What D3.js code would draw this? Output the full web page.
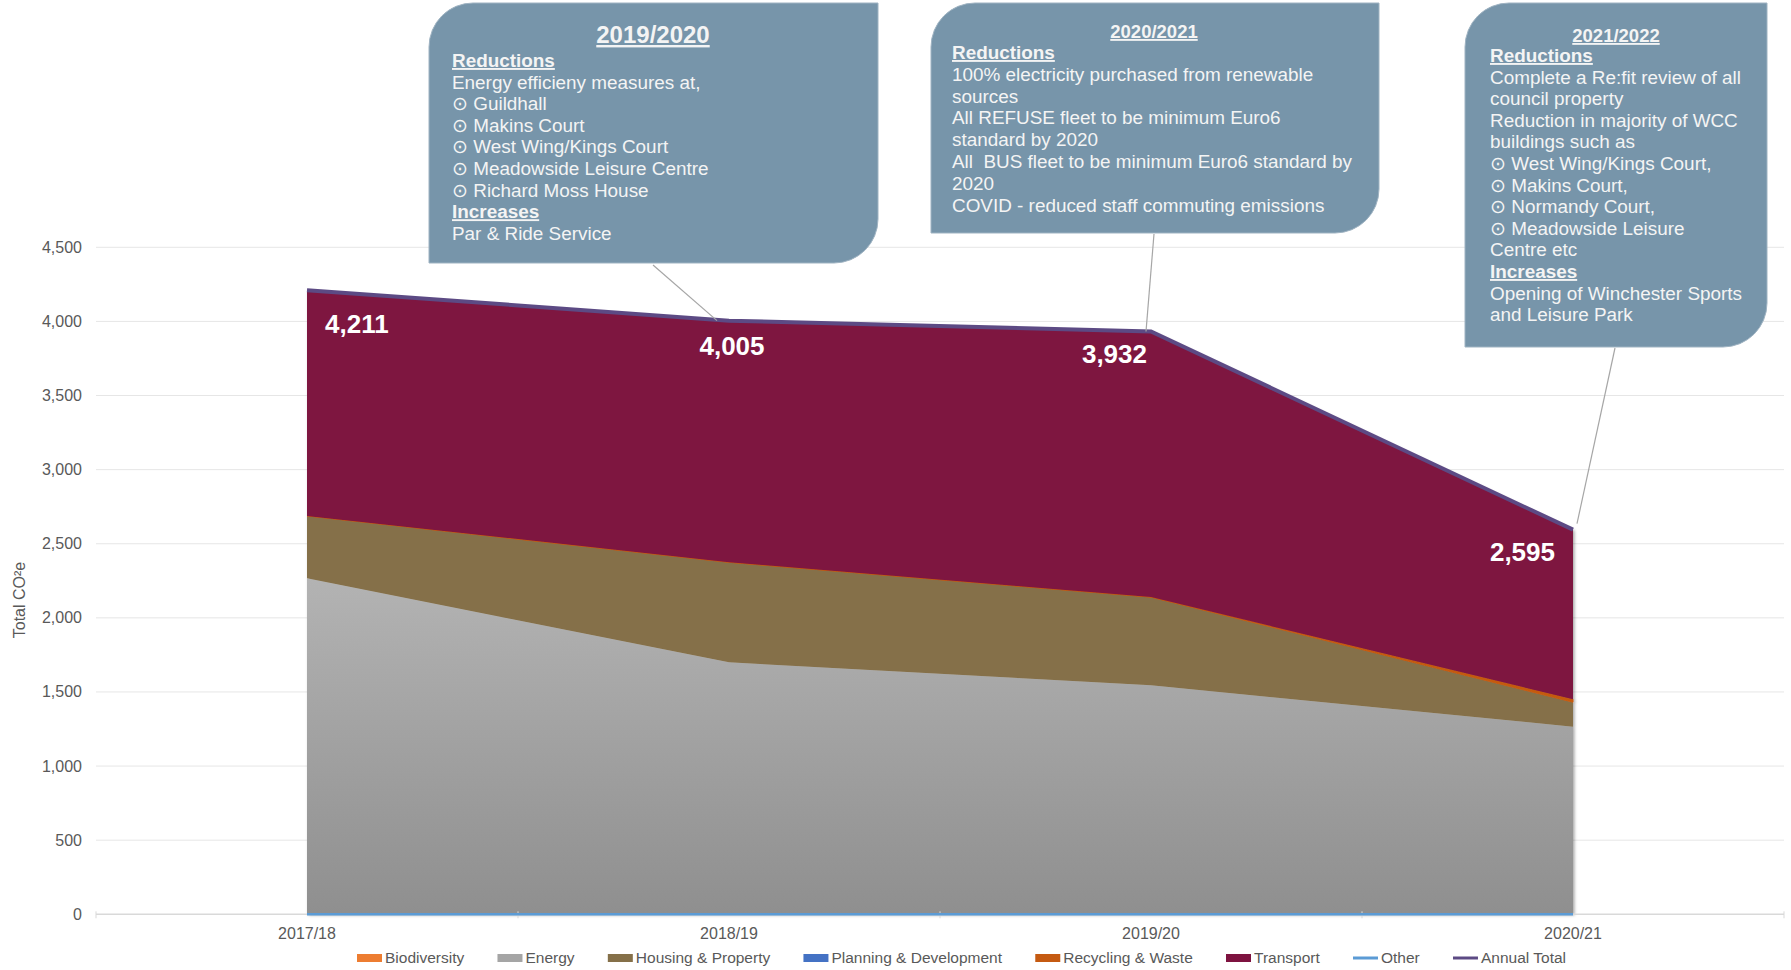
<!DOCTYPE html>
<html>
<head>
<meta charset="utf-8">
<script src="https://cdn.jsdelivr.net/npm/d3@7"></script>
<style>
  html, body { margin: 0; padding: 0; background: #fff; }
  svg { display: block; font-family: "Liberation Sans", Arial, sans-serif; }
</style>
</head>
<body>
<div id="chart"></div>
<script>
// ---- data ----
var years = ["2017/18", "2018/19", "2019/20", "2020/21"];
var biodiversity = [0, 0, 0, 0];
var energy = [2268, 1700, 1545, 1266];
var housing = [420, 675, 595, 165];
var planning = [0, 0, 0, 0];
var recycling = [0, 0, 0, 20];
var transport = [1523, 1630, 1792, 1144];
var other = [0, 0, 0, 0];
var annualTotal = [4211, 4005, 3932, 2595];
var yTicks = [0, 500, 1000, 1500, 2000, 2500, 3000, 3500, 4000, 4500];

var areaSeries = [
    { key: "Biodiversity", values: biodiversity, color: "#ed7d31" },
    { key: "Energy", values: energy, color: "url(#energyGrad)" },
    { key: "Housing & Property", values: housing, color: "#857049" },
    { key: "Planning & Development", values: planning, color: "#4472c4" },
    { key: "Recycling & Waste", values: recycling, color: "#c55a11" },
    { key: "Transport", values: transport, color: "#7e1340" }
];

// callout notes: "#" marks an underlined bold heading
var note1 = ["#Reductions", "Energy efficieny measures at,", "\u2299 Guildhall", "\u2299 Makins Court",
    "\u2299 West Wing/Kings Court", "\u2299 Meadowside Leisure Centre", "\u2299 Richard Moss House",
    "#Increases", "Par & Ride Service"];
var note2 = ["#Reductions", "100% electricity purchased from renewable", "sources",
    "All REFUSE fleet to be minimum Euro6", "standard by 2020",
    "All  BUS fleet to be minimum Euro6 standard by", "2020",
    "COVID - reduced staff commuting emissions"];
var note3 = ["#Reductions", "Complete a Re:fit review of all", "council property",
    "Reduction in majority of WCC", "buildings such as", "\u2299 West Wing/Kings Court,",
    "\u2299 Makins Court,", "\u2299 Normandy Court,", "\u2299 Meadowside Leisure", "Centre etc",
    "#Increases", "Opening of Winchester Sports", "and Leisure Park"];

var W = 1791, H = 970;
var plot = { left: 96, right: 1784, top: 247.3, bottom: 914.3 };

var svg = d3.select("#chart").append("svg")
    .attr("width", W).attr("height", H);

var defs = svg.append("defs");
var grad = defs.append("linearGradient").attr("id", "energyGrad")
    .attr("x1", 0).attr("y1", 0).attr("x2", 0).attr("y2", 1);
grad.append("stop").attr("offset", "0%").attr("stop-color", "#b3b3b3");
grad.append("stop").attr("offset", "100%").attr("stop-color", "#8f8f8f");
var shadow = defs.append("filter").attr("id", "shade")
    .attr("x", "-5%").attr("y", "-5%").attr("width", "110%").attr("height", "110%");
shadow.append("feDropShadow").attr("dx", 1.5).attr("dy", 1).attr("stdDeviation", 1.5)
    .attr("flood-color", "#000").attr("flood-opacity", 0.35);

var x = d3.scaleBand().domain(years).range([plot.left, plot.right]).padding(0);
var cx = function (d) { return x(d) + x.bandwidth() / 2; };
var y = d3.scaleLinear().domain([0, 4500]).range([plot.bottom, plot.top]);

// gridlines
svg.append("g").selectAll("line")
    .data(yTicks.filter(function (t) { return t > 0; }))
    .join("line")
    .attr("x1", plot.left).attr("x2", plot.right)
    .attr("y1", function (d) { return y(d); }).attr("y2", function (d) { return y(d); })
    .attr("stroke", "#e6e6e6").attr("stroke-width", 1);

// y labels
svg.append("g").selectAll("text")
    .data(yTicks)
    .join("text")
    .attr("x", 82).attr("y", function (d) { return y(d) + 5.5; })
    .attr("text-anchor", "end")
    .attr("font-size", 16).attr("fill", "#595959")
    .text(d3.format(","));

svg.append("text")
    .attr("transform", "translate(25," + 600 + ") rotate(-90)")
    .attr("text-anchor", "middle")
    .attr("font-size", 16).attr("fill", "#595959")
    .text("Total CO\u00b2e");

// stacked areas
var rows = years.map(function (yr, i) {
    var r = { year: yr };
    areaSeries.forEach(function (s) { r[s.key] = s.values[i]; });
    return r;
});
var stack = d3.stack().keys(areaSeries.map(function (s) { return s.key; }));
var layers = stack(rows);
var area = d3.area()
    .x(function (d) { return cx(d.data.year); })
    .y0(function (d) { return y(d[0]); })
    .y1(function (d) { return y(d[1]); });

var gArea = svg.append("g").attr("filter", "url(#shade)");
gArea.selectAll("path")
    .data(layers)
    .join("path")
    .attr("d", area)
    .attr("fill", function (d, i) { return areaSeries[i].color; })
    .attr("stroke", function (d, i) { return d.key === "Recycling & Waste" ? areaSeries[i].color : "none"; })
    .attr("stroke-width", 1);

// x axis
svg.append("line")
    .attr("x1", plot.left).attr("x2", plot.right)
    .attr("y1", plot.bottom).attr("y2", plot.bottom)
    .attr("stroke", "#d9d9d9").attr("stroke-width", 1.5);
var tickPos = years.map(function (d) { return x(d); }).concat([plot.right]);
svg.append("g").selectAll("line")
    .data(tickPos)
    .join("line")
    .attr("x1", function (d) { return d; }).attr("x2", function (d) { return d; })
    .attr("y1", plot.bottom - 3).attr("y2", plot.bottom + 4)
    .attr("stroke", "#d9d9d9");
svg.append("g").selectAll("text")
    .data(years)
    .join("text")
    .attr("x", cx).attr("y", 939)
    .attr("text-anchor", "middle")
    .attr("font-size", 16).attr("fill", "#595959")
    .text(function (d) { return d; });

// line series
var line = d3.line()
    .x(function (d, i) { return cx(years[i]); })
    .y(function (d) { return y(d); });
svg.append("path").datum(other)
    .attr("d", line).attr("fill", "none")
    .attr("stroke", "#5b9bd5").attr("stroke-width", 2.5);
svg.append("path").datum(annualTotal)
    .attr("d", line).attr("fill", "none")
    .attr("stroke", "#5c4a84").attr("stroke-width", 4);

// total labels
var nudge = [[18, 43, "start"], [3, 34, "middle"], [-4, 32, "end"], [-18, 31, "end"]];
svg.append("g").selectAll("text")
    .data(annualTotal)
    .join("text")
    .attr("x", function (d, i) { return cx(years[i]) + nudge[i][0]; })
    .attr("y", function (d, i) { return y(d) + nudge[i][1]; })
    .attr("text-anchor", function (d, i) { return nudge[i][2]; })
    .attr("font-size", 26).attr("font-weight", "bold").attr("fill", "#ffffff")
    .text(d3.format(","));

// callouts
function callout(box, title, titleSize, lines, lineX, firstY, step, target) {
    var g = svg.append("g");
    var r = 44, x0 = box[0], y0 = box[1], w = box[2], h = box[3];
    g.append("line")
        .attr("x1", target[0]).attr("y1", target[1])
        .attr("x2", target[2]).attr("y2", target[3])
        .attr("stroke", "#a6a6a6").attr("stroke-width", 1.2);
    g.append("path")
        .attr("d", "M" + (x0 + r) + "," + y0 + " H" + (x0 + w) + " V" + (y0 + h - r) +
            " A" + r + "," + r + " 0 0 1 " + (x0 + w - r) + "," + (y0 + h) +
            " H" + x0 + " V" + (y0 + r) + " A" + r + "," + r + " 0 0 1 " + (x0 + r) + "," + y0 + " Z")
        .attr("fill", "#7795aa").attr("stroke", "#9fb3c2").attr("stroke-width", 1);
    g.append("text")
        .attr("x", title[1]).attr("y", title[2])
        .attr("text-anchor", "middle")
        .attr("font-size", titleSize).attr("font-weight", "bold")
        .attr("text-decoration", "underline").attr("fill", "#f4f4f4")
        .text(title[0]);
    g.selectAll("text.ln")
        .data(lines)
        .join("text")
        .attr("class", "ln")
        .attr("x", lineX)
        .attr("y", function (d, i) { return firstY + i * step; })
        .attr("font-size", 18.9)
        .attr("font-weight", function (d) { return d[0] === "#" ? "bold" : "normal"; })
        .attr("text-decoration", function (d) { return d[0] === "#" ? "underline" : null; })
        .attr("fill", "#f4f4f4")
        .style("white-space", "pre")
        .text(function (d) { return d[0] === "#" ? d.slice(1) : d; });
}

callout([429, 3, 449, 260], ["2019/2020", 653, 43], 24, note1, 452, 67, 21.6,
    [653, 265, cx(years[1]) - 12, y(annualTotal[1])]);
callout([931, 3, 448, 230], ["2020/2021", 1154, 38], 18.5, note2, 952, 59, 21.8,
    [1154, 234, cx(years[2]) - 5, y(annualTotal[2])]);
callout([1465, 3, 302, 344], ["2021/2022", 1616, 42], 18.5, note3, 1490, 62, 21.6,
    [1615, 348, cx(years[3]) + 4, y(annualTotal[3]) - 6]);

// legend
var legendItems = areaSeries.map(function (s) { return { key: s.key, color: s.color === "url(#energyGrad)" ? "#a5a5a5" : s.color, type: "rect" }; })
    .concat([{ key: "Other", color: "#5b9bd5", type: "line" }, { key: "Annual Total", color: "#5c4a84", type: "line" }]);
var lg = svg.append("g");
var items = lg.selectAll("g").data(legendItems).join("g");
items.append("text")
    .attr("y", 963).attr("font-size", 15.5).attr("fill", "#595959")
    .text(function (d) { return d.key; });
var widths = [];
items.select("text").each(function () { widths.push(this.getComputedTextLength()); });
var sw = 25, sg = 3, lx0 = 357, lx1 = 1566;
var gap = (lx1 - lx0 - d3.sum(widths) - legendItems.length * (sw + sg)) / (legendItems.length - 1);
var pos = lx0;
items.each(function (d, i) {
    var g = d3.select(this);
    if (d.type === "rect") {
        g.append("rect").attr("x", pos).attr("y", 954).attr("width", sw).attr("height", 8).attr("fill", d.color);
    } else {
        g.append("line").attr("x1", pos).attr("x2", pos + sw).attr("y1", 958).attr("y2", 958)
            .attr("stroke", d.color).attr("stroke-width", 3);
    }
    g.select("text").attr("x", pos + sw + sg);
    pos += sw + sg + widths[i] + gap;
});
</script>
</body>
</html>
